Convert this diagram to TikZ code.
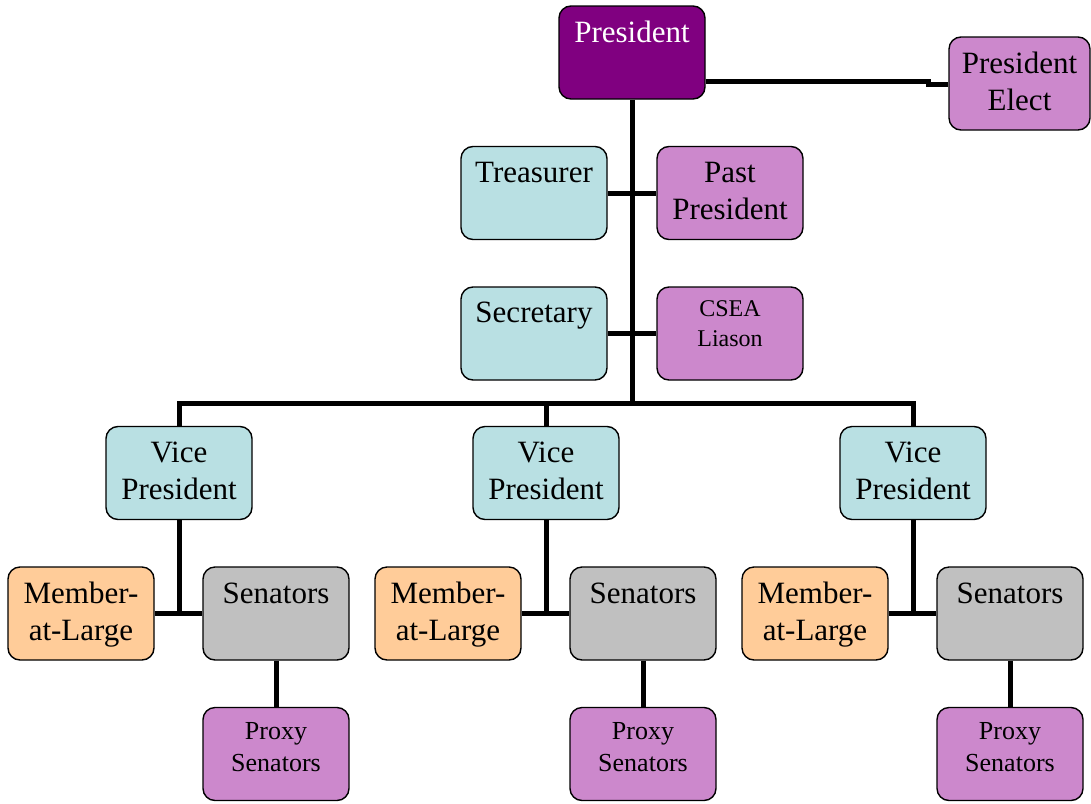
\documentclass[tikz,border=0pt]{standalone}
\usepackage{fontspec}
\setmainfont{Liberation Serif}
\definecolor{presc}{HTML}{800080}
\definecolor{plum}{HTML}{CC88CC}
\definecolor{cyanbox}{HTML}{B9E0E3}
\definecolor{peach}{HTML}{FFCC99}
\definecolor{greybox}{HTML}{C0C0C0}
\newcommand\boxtxt[4]{\parbox[c][#1pt][t]{#2pt}{\centering\rule{0pt}{#3pt}#4\par}}
\tikzset{
  box/.style={draw=black, line width=1.4pt, rounded corners=12pt, inner sep=0pt,
              minimum width=146pt, minimum height=93pt},
  big/.style={font=\fontsize{31}{37}\selectfont},
  small/.style={font=\fontsize{26}{32}\selectfont},
  tiny/.style={font=\fontsize{24}{30}\selectfont},
  conn/.style={line width=5pt, black},
}
\begin{document}
\begin{tikzpicture}[x=1pt,y=-1pt]
\useasboundingbox (0,0) rectangle (1091,803);
% top
\node[box, big, fill=presc, text=white] (pres) at (632,52.5) {\boxtxt{93}{146}{36.5}{President}};
\node[box, big, fill=plum, minimum width=141pt] (elect) at (1019.5,83.5) {\boxtxt{92}{141}{36}{President\\Elect}};
\node[box, big, fill=cyanbox] (treas) at (534,193) {\boxtxt{93}{146}{35.5}{Treasurer}};
\node[box, big, fill=plum] (past) at (730,193) {\boxtxt{93}{146}{35.5}{Past\\President}};
\node[box, big, fill=cyanbox] (secr) at (534,333.5) {\boxtxt{93}{146}{35.5}{Secretary}};
\node[box, tiny, fill=plum] (csea) at (730,333.5) {\boxtxt{93}{146}{29}{CSEA\\Liason}};
% groups
\foreach \i/\dx in {1/0,2/367,3/734}{
  \node[box, big, fill=cyanbox] (vp\i) at (179+\dx,473) {\boxtxt{93}{146}{35.5}{Vice\\President}};
  \node[box, big, fill=peach] (mem\i) at (81+\dx,613.5) {\boxtxt{93}{146}{36}{Member-\\at-Large}};
  \node[box, big, fill=greybox] (sen\i) at (276+\dx,613.5) {\boxtxt{93}{146}{36}{Senators}};
  \node[box, small, fill=plum] (prox\i) at (276+\dx,754) {\boxtxt{92}{146}{31}{Proxy\\Senators}};
}
% connectors
\coordinate (bus) at (632,403);
\coordinate (k1) at (928,81);
\coordinate (k2) at (928,84);
\draw[conn] (pres.south) -- (bus);
\draw[conn] (pres.east |- k1) -- (k1) -- (k2) -- (elect.west |- k2);
\draw[conn] (treas.east) -- (past.west);
\draw[conn] (secr.east) -- (csea.west);
\draw[conn] (vp1.north) -- (vp1.north |- bus) -- (vp3.north |- bus) -- (vp3.north);
\draw[conn] (vp2.north) -- (vp2.north |- bus);
\foreach \i in {1,2,3}{
  \draw[conn] (vp\i.south) -- (vp\i.south |- mem\i.east);
  \draw[conn] (mem\i.east) -- (sen\i.west);
  \draw[conn] (sen\i.south) -- (prox\i.north);
}
\end{tikzpicture}
\end{document}
